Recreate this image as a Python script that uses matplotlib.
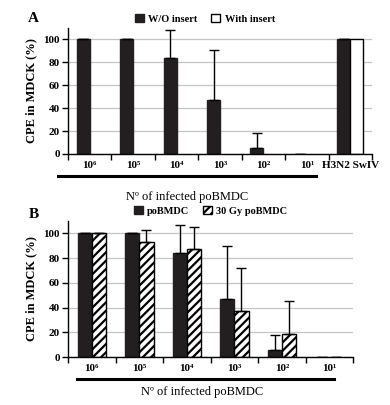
import numpy as np
import matplotlib.pyplot as plt
from matplotlib.lines import Line2D

plt.rcParams['font.family'] = ['Liberation Serif', 'DejaVu Serif']
plt.rcParams['hatch.linewidth'] = 1.6

# Panel A data
cats_a = ["10⁶", "10⁵", "10⁴", "10³", "10²", "10¹", "H3N2 SwIV"]
wo_insert = [100, 100, 84, 47, 5, 0, 100]
wo_err = [0, 0, 24, 44, 13, 0, 0]
with_insert = [0, 0, 0, 0, 0, 0, 100]

# Panel B data
cats_b = ["10⁶", "10⁵", "10⁴", "10³", "10²", "10¹"]
pobmdc = [100, 100, 84, 47, 6, 0]
pobmdc_err = [0, 0, 23, 43, 12, 0]
gy30 = [100, 93, 87, 37, 19, 0]
gy30_err = [0, 10, 18, 35, 26, 0]

fig = plt.figure(figsize=(3.9, 4.05), dpi=100)
axA = fig.add_axes([0.1744, 0.6198, 0.7795, 0.3111])
axB = fig.add_axes([0.1744, 0.1185, 0.7308, 0.3358])

w = 0.3


def style(ax, cats):
    n = len(cats)
    ax.set_xlim(0, n)
    ax.set_ylim(0, 110)
    ax.set_yticks(np.arange(0, 101, 20))
    ax.set_xticks(np.arange(n + 1))
    ax.set_xticklabels([])
    ax.set_xticks(np.arange(n) + 0.5, minor=True)
    ax.set_xticklabels(cats, minor=True, fontweight='bold', fontsize=8)
    ax.tick_params(axis='x', which='minor', length=0, pad=5)
    ax.tick_params(axis='x', which='major', length=4, width=1)
    ax.tick_params(axis='y', length=4, width=1, labelsize=8, pad=2)
    for lab in ax.get_yticklabels():
        lab.set_fontweight('bold')
    for s in ['top', 'right']:
        ax.spines[s].set_visible(False)
    for s in ['left', 'bottom']:
        ax.spines[s].set_linewidth(1)
    ax.yaxis.grid(True, color='#c4c4c4', linewidth=0.9)
    ax.set_axisbelow(True)
    ax.set_ylabel("CPE in MDCK (%)", fontweight='bold', fontsize=9, labelpad=4)
    for p in ax.patches:
        if p.get_height() == 0:
            p.set_linewidth(0)


def legend(ax, xc, yc):
    ax.legend(ncol=2, loc='lower center', bbox_to_anchor=(xc, yc),
              frameon=False, handlelength=0.9, handleheight=0.9,
              columnspacing=1.3, handletextpad=0.4,
              prop={'weight': 'bold', 'size': 7.5})


# Panel A
xa = np.arange(len(cats_a)) + 0.5
axA.bar(xa - w / 2, wo_insert, w, color='#231f20', edgecolor='#231f20',
        label='W/O insert')
axA.bar(xa + w / 2, with_insert, w, color='white', edgecolor='black',
        linewidth=1, label='With insert')
axA.errorbar(xa - w / 2, wo_insert, yerr=[np.zeros(len(wo_err)), wo_err],
             fmt='none', ecolor='black', elinewidth=1, capsize=3.5, capthick=1)
legend(axA, 0.45, 0.96)
style(axA, cats_a)
fig.text(0.085, 0.955, "A", fontsize=11, fontweight='bold', ha='center', va='center')
fig.add_artist(Line2D([0.1487, 0.810], [0.5654, 0.5654], color='black', lw=2.2))
fig.text(0.479, 0.514, "Nº of infected poBMDC", fontsize=9, ha='center', va='center')

# Panel B
xb = np.arange(len(cats_b)) + 0.5
axB.bar(xb - w / 2, pobmdc, w, color='#231f20', edgecolor='#231f20',
        label='poBMDC')
axB.bar(xb + w / 2, gy30, w, color='white', edgecolor='black', hatch='////',
        linewidth=1, label='30 Gy poBMDC')
axB.errorbar(xb - w / 2, pobmdc, yerr=[np.zeros(len(pobmdc_err)), pobmdc_err],
             fmt='none', ecolor='black', elinewidth=1, capsize=3.5, capthick=1)
axB.errorbar(xb + w / 2, gy30, yerr=[np.zeros(len(gy30_err)), gy30_err],
             fmt='none', ecolor='black', elinewidth=1, capsize=3.5, capthick=1)
legend(axB, 0.5, 0.97)
style(axB, cats_b)
fig.text(0.088, 0.47, "B", fontsize=11, fontweight='bold', ha='center', va='center')
fig.add_artist(Line2D([0.1974, 0.856], [0.0642, 0.0642], color='black', lw=2.2))
fig.text(0.519, 0.032, "Nº of infected poBMDC", fontsize=9, ha='center', va='center')

fig.savefig("out.png", dpi=100)
